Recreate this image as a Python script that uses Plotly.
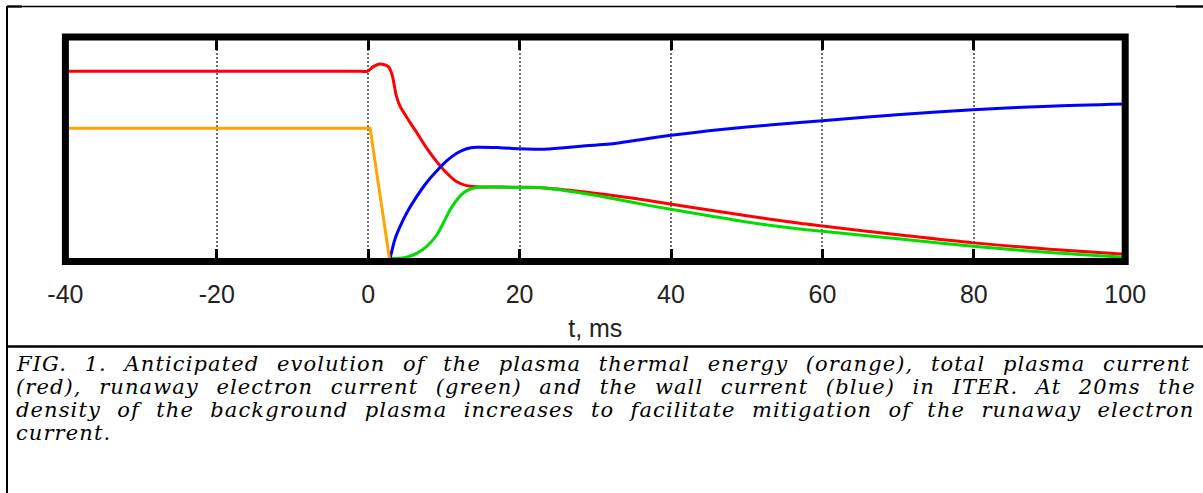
import plotly.graph_objects as go

W, H = 1203, 493

# ---------------- data ----------------
t_orange = [-40, 0.25, 2.8]
v_orange = [0.594, 0.594, 0.014]

t_red = [-40, -1.0, -0.1, 0.67, 1.56, 2.66, 3.1, 3.4, 3.7, 4.2, 4.9, 5.6, 6.4, 7.7, 9.05, 10.4,
         11.7, 13.0, 14.3, 19.5, 22.9, 28.4, 32.8, 37.2, 45, 50, 57, 60, 70.3, 79.9, 90, 100]
v_red = [0.847, 0.847, 0.847, 0.868, 0.880, 0.868, 0.838, 0.794, 0.740, 0.692, 0.653, 0.615,
         0.575, 0.506, 0.445, 0.393, 0.355, 0.338, 0.333, 0.331, 0.329, 0.311, 0.292, 0.271,
         0.229, 0.204, 0.170, 0.158, 0.118, 0.083, 0.055, 0.032]

t_green = [2.9, 4.2, 5.3, 6.4, 7.7, 9.05, 9.9, 10.8, 11.7, 12.6, 13.5, 14.3, 19.5, 22.9,
           28.4, 32.8, 37.2, 45, 50, 57, 60, 70.3, 79.9, 90, 100]
v_green = [0.014, 0.014, 0.021, 0.036, 0.066, 0.118, 0.170, 0.229, 0.274, 0.306, 0.323, 0.330,
           0.330, 0.329, 0.304, 0.277, 0.249, 0.204, 0.176, 0.145, 0.135, 0.100, 0.068, 0.040, 0.019]

t_blue = [2.9, 3.5, 4.2, 5.3, 6.4, 7.7, 9.05, 10.4, 11.7, 13.0, 14.3, 17.4, 20.0, 22.9, 26.2,
          28.4, 32.8, 35.0, 37.2, 40, 45, 50, 57, 60, 70.3, 79.9, 90, 100]
v_blue = [0.014, 0.096, 0.155, 0.229, 0.289, 0.351, 0.403, 0.449, 0.482, 0.502, 0.509, 0.507,
          0.502, 0.500, 0.508, 0.514, 0.527, 0.538, 0.549, 0.562, 0.582, 0.599, 0.619, 0.627,
          0.655, 0.676, 0.692, 0.702]

tick_vals = [-40, -20, 0, 20, 40, 60, 80, 100]
tick_text = ["-40", "-20", "0", "20", "40", "60", "80", "100"]
x_title = "t, ms"

caption_lines = [
    "FIG. 1. Anticipated evolution of the plasma thermal energy (orange), total plasma current",
    "(red), runaway electron current (green) and the wall current (blue) in ITER. At 20ms the",
    "density of the background plasma increases to facilitate mitigation of the runaway electron",
    "current.",
]
caption_word_spacing = [9.9, 9.8, 8.6, 0]

# ---------------- figure ----------------
fig = go.Figure()
series = [
    (t_red, v_red, "#ff0000", "spline"),
    (t_green, v_green, "#00dd00", "spline"),
    (t_blue, v_blue, "#0000ff", "spline"),
    (t_orange, v_orange, "#ffa500", "linear"),
]
for tx, vy, col, shape in series:
    fig.add_trace(go.Scatter(x=tx, y=vy, mode="lines",
                             line=dict(color=col, width=3, shape=shape, smoothing=0.8),
                             hoverinfo="skip", showlegend=False))

x0p, x1p = 65.4, 1125.2      # plot edges (px)
ytop, ybot = 37.0, 261.5

fig.update_layout(
    width=W, height=H,
    margin=dict(l=0, r=0, t=0, b=0, autoexpand=False),
    paper_bgcolor="white", plot_bgcolor="white",
    showlegend=False,
    xaxis=dict(
        domain=[x0p / W, x1p / W], range=[-40, 100], automargin=False,
        tickvals=tick_vals, ticktext=tick_text,
        ticks="inside", ticklen=13, tickwidth=2.5, tickcolor="black",
        mirror="allticks", showline=False, zeroline=False,
        showgrid=True, gridcolor="#6e6e6e", gridwidth=1.5, griddash="2px,2px",
        tickfont=dict(family="Liberation Sans", size=25, color="#222222"),
        ticklabelstandoff=15,
        title=dict(text=x_title, font=dict(family="Liberation Sans", size=25, color="#222222"),
                   standoff=12),
    ),
    yaxis=dict(
        domain=[1 - ybot / H, 1 - ytop / H], range=[0, 1], automargin=False,
        showticklabels=False, ticks="", showgrid=False, zeroline=False, showline=False,
    ),
)

shapes = [
    # thick plot border
    dict(type="rect", xref="x domain", yref="y domain", x0=0, x1=1, y0=0, y1=1,
         line=dict(color="black", width=7), layer="above"),
]

def px(x):
    return x / W

def py(y):
    return 1 - y / H

frame = [
    (7, 6, 7, H, 2),          # left frame line
    (7, 6.5, W, 6.5, 1.4),    # top frame line
    (7, 6.5, 22, 6.5, 2.2),
    (1176, 6.5, W, 6.5, 2.2),
    (7, 346.5, W, 346.5, 2.6),    # separator between figure and caption
]
for xa, ya, xb, yb, w in frame:
    shapes.append(dict(type="line", xref="paper", yref="paper",
                       x0=px(xa), y0=py(ya), x1=px(xb), y1=py(yb),
                       line=dict(color="black", width=w)))
fig.update_layout(shapes=shapes)

baselines = [371, 394, 417, 440]
for line, ws, bl in zip(caption_lines, caption_word_spacing, baselines):
    txt = f'<span style="letter-spacing:1.1px;word-spacing:{ws}px">{line}</span>'
    fig.add_annotation(
        text=txt, xref="paper", yref="paper",
        x=px(14), y=py(bl - 7), xanchor="left", yanchor="middle",
        showarrow=False, align="left",
        font=dict(family="DejaVu Serif", size=21, color="black", style="italic"),
    )

fig.write_html("out.html")
